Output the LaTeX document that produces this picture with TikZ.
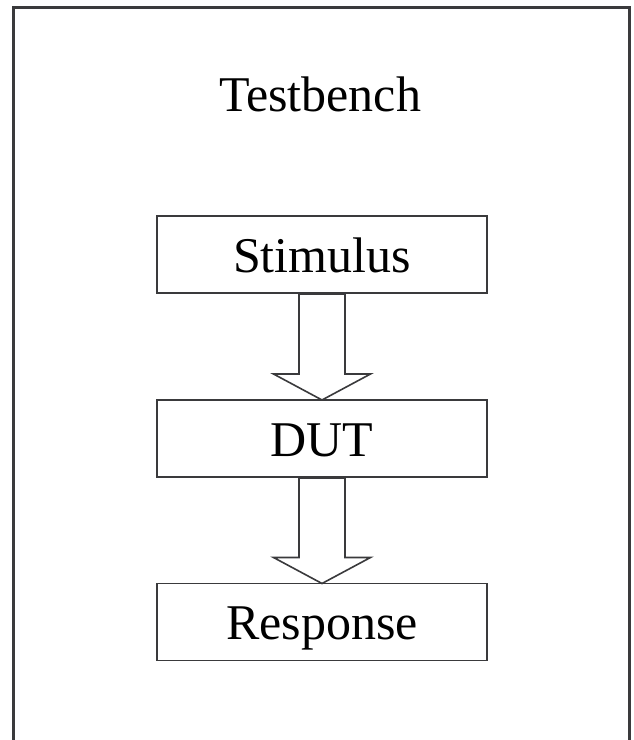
\documentclass[tikz,border=0pt]{standalone}
\usepackage{fontspec}
\setmainfont{Liberation Serif}
\usetikzlibrary{calc}
\definecolor{frame}{HTML}{3A3A3C}
\tikzset{
  bigtext/.style={font=\fontsize{50}{60}\selectfont, text=black},
  stagebox/.style={minimum width=330pt, minimum height=77pt, inner sep=0pt,
    outer sep=0pt, text height=36pt, text depth=0pt, bigtext},
  stageline/.style={draw=frame, line width=1.6pt},
  hollowarrow/.style={draw=frame, line width=1.6pt, fill=white, line join=miter},
  outer/.style={draw=frame, line width=2.2pt}
}
\newcommand{\blockarrow}[2]{%
  \draw[hollowarrow]
    ($(#1.south)+(-23,-1)$) -- ($(#2.north)+(-23,26)$) -- ($(#2.north)+(-48.5,26)$)
    -- (#2.north) -- ($(#2.north)+(48.5,26)$) -- ($(#2.north)+(23,26)$)
    -- ($(#1.south)+(23,-1)$) -- cycle;}
\begin{document}
\begin{tikzpicture}[x=1pt,y=1pt]
  \useasboundingbox (0,0) rectangle (633,740);
  % enclosing testbench frame (runs past the lower edge)
  \draw[outer] (13.5,-10) -- (13.5,732.5) -- (629.5,732.5) -- (629.5,-10);
  \node[bigtext, anchor=base] (title) at (320,628) {Testbench};
  % the three stages (positions fixed first, outlines drawn last)
  \node[stagebox] (stim) at (322,485.5) {Stimulus};
  \node[stagebox] (dut)  at (322,301.5) {DUT};
  \node[stagebox] (resp) at (322,118)   {Response};
  % block arrows between the stages
  \blockarrow{stim}{dut}
  \blockarrow{dut}{resp}
  % stage outlines on top of the arrows
  \foreach \b in {stim,dut,resp}
    \draw[stageline] (\b.south west) rectangle (\b.north east);
\end{tikzpicture}
\end{document}
